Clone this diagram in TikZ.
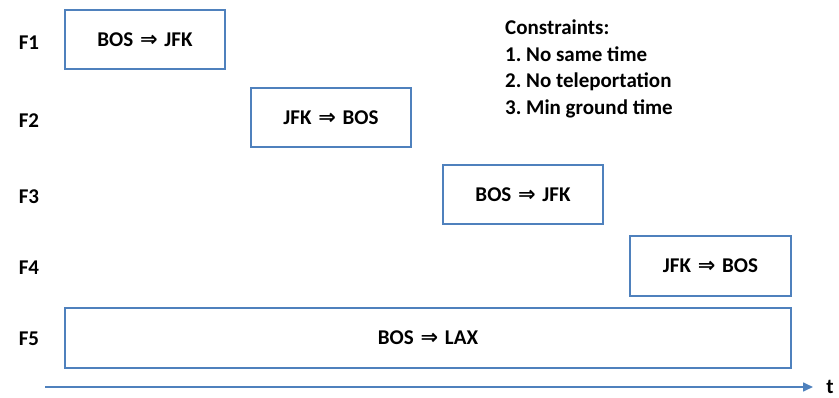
\documentclass[tikz,border=0pt]{standalone}
\usepackage{fontspec}
\setmainfont{Carlito}
\newfontfamily\symfont{DejaVu Sans}
\usetikzlibrary{arrows.meta,shadows}
\definecolor{boxblue}{RGB}{79,129,189}
\frenchspacing
\newcommand{\ar}{\hspace{2pt}{\symfont\fontsize{21}{21}\selectfont ⇒}\hspace{2pt}}
\begin{document}
\begin{tikzpicture}[x=1pt,y=-1pt,
  flight/.style={draw=boxblue,line width=1.6pt,fill=white,drop shadow={opacity=0.25,shadow xshift=1pt,shadow yshift=-1pt}},
  lbl/.style={font=\bfseries\fontsize{21}{26.5}\selectfont},
  fl/.style={font=\bfseries\fontsize{21}{24}\selectfont,anchor=center}]
\useasboundingbox (0,0) rectangle (839,398);
\path[flight] (65,10) rectangle (225,69) node[midway,lbl] (b1) {BOS \ar{} JFK};
\path[flight] (251,88) rectangle (411,147) node[midway,lbl] (b2) {JFK \ar{} BOS};
\path[flight] (443,165) rectangle (603,224) node[midway,lbl] (b3) {BOS \ar{} JFK};
\path[flight] (630,236) rectangle (791,296) node[midway,lbl] (b4) {JFK \ar{} BOS};
\path[flight] (65,308) rectangle (791,368) node[midway,lbl] (b5) {BOS \ar{} LAX};
\node[fl] (f1) at (29,43) {F1};
\node[fl] (f2) at (29,121) {F2};
\node[fl] (f3) at (29,197) {F3};
\node[fl] (f4) at (29,268) {F4};
\node[fl] (f5) at (29,339) {F5};
\node[lbl,anchor=north west,align=left,inner sep=0pt] (cons) at (505,20) {Constraints:\\1. No same time\\2. No teleportation\\3. Min ground time};
\coordinate (a0) at (45,387);
\coordinate (a1) at (813,387);
\draw[boxblue,line width=1.6pt,-{Triangle[length=10pt,width=9pt]}] (a0) -- (a1);
\node[fl] (t) at (830,387) {t};
\end{tikzpicture}
\end{document}
